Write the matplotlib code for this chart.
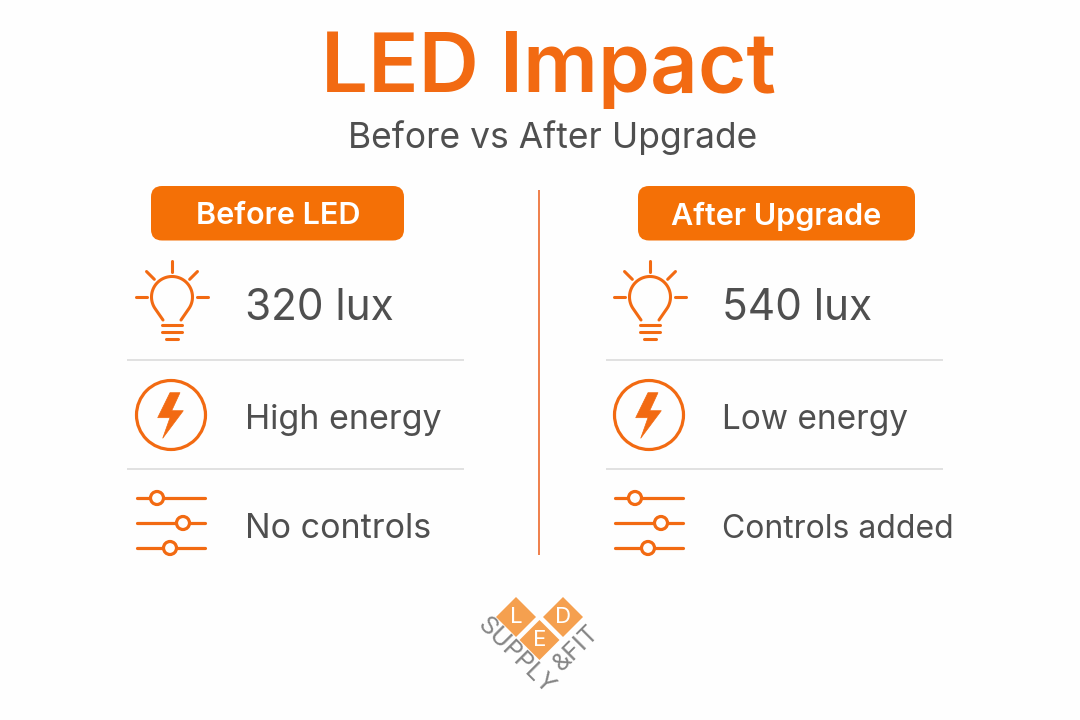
import numpy as np
import matplotlib
matplotlib.use("Agg")
import matplotlib.pyplot as plt
from matplotlib.patches import FancyBboxPatch, Circle, Polygon

plt.rcParams['font.family'] = ['Inter', 'DejaVu Sans']

TITLE = "LED Impact"
SUBTITLE = "Before vs After Upgrade"
HEADERS = ["Before LED", "After Upgrade"]
LUX = ["320 lux", "540 lux"]
ENERGY = ["High energy", "Low energy"]
CONTROLS = ["No controls", "Controls added"]

ORANGE = "#F26A12"
BADGE = "#F47006"
GREY = "#4F4F4F"
RULE = "#D9D9D9"
DIVIDER = "#EC6A2C"
DIAMOND = "#F5A04F"
LOGO_GREY = "#858585"
BG = "#FEFEFE"

fig = plt.figure(figsize=(10.8, 7.2), dpi=100, facecolor=BG)
ax = fig.add_axes([0, 0, 1, 1])
ax.set_xlim(0, 1080)
ax.set_ylim(720, 0)
ax.axis("off")

ax.text(548, 70, TITLE, ha="center", va="center", fontsize=60, color=ORANGE, fontweight="semibold")
ax.text(553, 138, SUBTITLE, ha="center", va="center", fontsize=25.5, color=GREY)
ax.plot([539, 539], [190, 555], color=DIVIDER, lw=1.2, solid_capstyle="butt")


def bulb(cx, cy):
    kw = dict(color=ORANGE, lw=2.2, solid_capstyle="round")
    t = np.radians(np.linspace(-215, 35, 60))
    r = 20.5
    xs = np.r_[cx - 9, cx + r * np.cos(t), cx + 9]
    ys = np.r_[cy + 23, cy + r * np.sin(t), cy + 23]
    ax.plot(xs, ys, **kw)
    ax.plot([cx - 10, cx + 10], [cy + 28, cy + 28], **kw)
    ax.plot([cx - 10, cx + 10], [cy + 35, cy + 35], **kw)
    ax.plot([cx - 6, cx + 6], [cy + 42, cy + 42], **kw)
    for ang in (-90, -45, -135, 0, 180):
        c, s = np.cos(np.radians(ang)), np.sin(np.radians(ang))
        r0, r1 = (25, 36)
        ax.plot([cx + r0 * c, cx + r1 * c], [cy + r0 * s, cy + r1 * s], **kw)


def bolt(cx, cy):
    ax.add_patch(Circle((cx, cy), 34.5, fill=False, ec=ORANGE, lw=2.3))
    pts = [(-1, -22.3), (-13.3, 2.7), (-1, 2.7), (-8.3, 23.3), (12.3, -4.3), (0.7, -4.3), (9, -22.3)]
    ax.add_patch(Polygon([(cx + x, cy + y) for x, y in pts], closed=True,
                         fc=ORANGE, ec=ORANGE, lw=0.5))


def sliders(x0, ys, knobs):
    for y, k in zip(ys, knobs):
        ax.plot([x0, x0 + 68], [y, y], color=ORANGE, lw=2.3, solid_capstyle="round", zorder=2)
        ax.add_patch(Circle((x0 + k, y), 6.5, fc=BG, ec=ORANGE, lw=2.3, zorder=3))


LUX_SIZE = [30.5, 30.5]
ENERGY_SIZE = [24.5, 24]
CONTROLS_SIZE = [24.5, 23]

for i, (x_off, badge_x, badge_w, badge_cx, rule_x) in enumerate(
        [(0, 151, 253, 278, 127), (478, 638, 277, 776, 606)]):
    ax.add_patch(FancyBboxPatch((badge_x, 186), badge_w, 54.5,
                                boxstyle="round,pad=0,rounding_size=11", fc=BADGE, ec="none",
                                zorder=1))
    ax.text(badge_cx, 216, HEADERS[i], ha="center", va="center", color="white",
            fontsize=22, fontweight="semibold", zorder=2)

    for y in (360, 469):
        ax.plot([rule_x, rule_x + 337], [y, y], color=RULE, lw=1.1, solid_capstyle="butt")

    bulb(172 + x_off, 297)
    bolt(171 + x_off, 415)
    sliders(137 + x_off, [498, 523, 548], [20, 46, 33])

    tx = 245 + (477 if i else 0)
    ax.text(tx, 309, LUX[i], ha="left", va="center", color=GREY, fontsize=LUX_SIZE[i])
    ax.text(tx, 420, ENERGY[i], ha="left", va="center", color=GREY, fontsize=ENERGY_SIZE[i])
    ax.text(tx, 529, CONTROLS[i], ha="left", va="center", color=GREY, fontsize=CONTROLS_SIZE[i])

# Logo
for (cx, cy, ch) in [(516, 617, "L"), (563, 617, "D"), (539.5, 640, "E")]:
    ax.add_patch(Polygon([(cx, cy - 20), (cx + 20, cy), (cx, cy + 20), (cx - 20, cy)],
                         closed=True, fc=DIAMOND, ec="none", zorder=2))
    ax.text(cx, cy, ch, ha="center", va="center", color="white", fontsize=16, zorder=3)
ax.text(516, 656, "SUPPLY", ha="center", va="center", rotation=-45, rotation_mode="anchor",
        color=LOGO_GREY, fontsize=18, zorder=4)
ax.text(576, 648, "&FIT", ha="center", va="center", rotation=45, rotation_mode="anchor",
        color=LOGO_GREY, fontsize=18, zorder=4)

fig.savefig("out.png", dpi=100, facecolor=fig.get_facecolor())
